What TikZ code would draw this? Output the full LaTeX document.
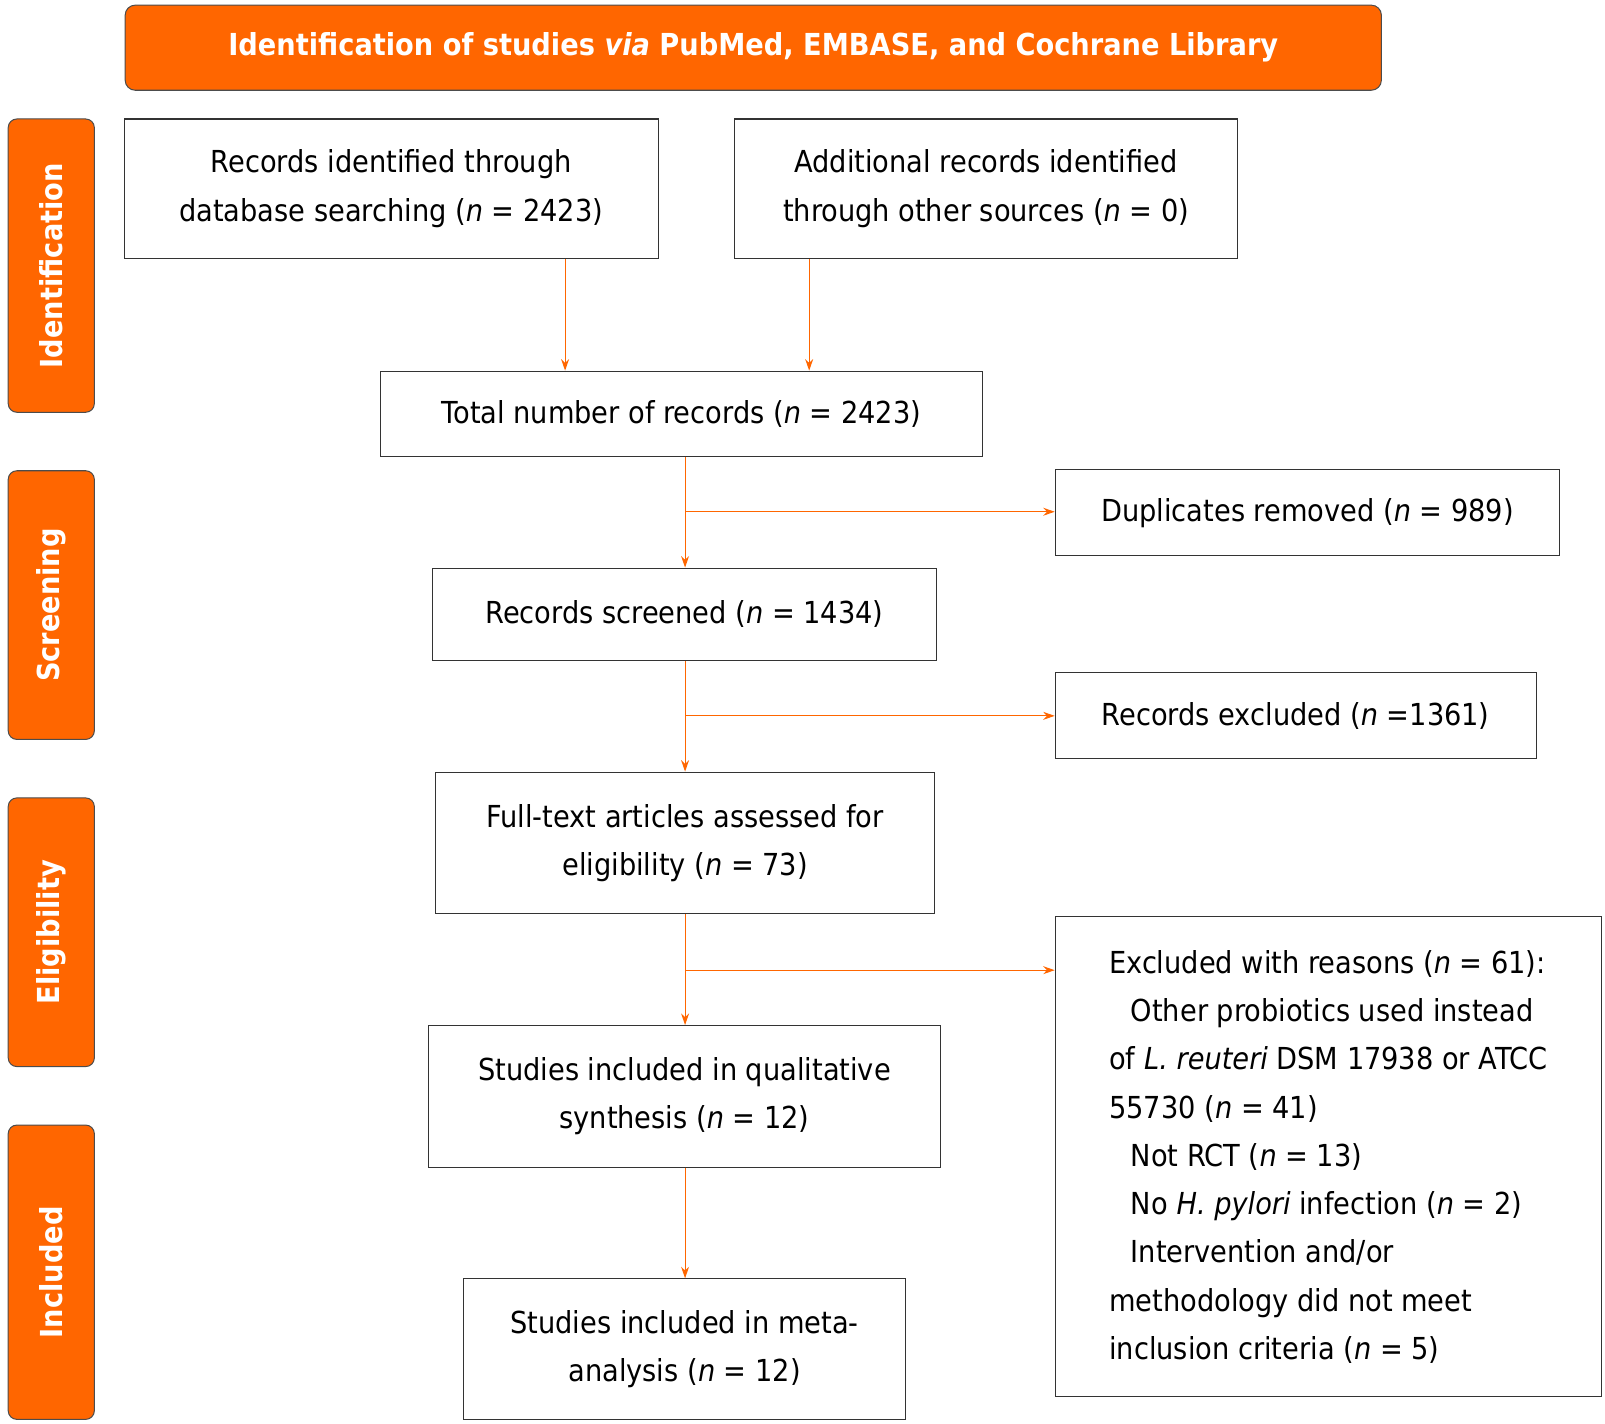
\documentclass[tikz,border=0pt]{standalone}
\usepackage{fontspec}
\setmainfont{DejaVu Sans Condensed}
\usetikzlibrary{arrows.meta}
\definecolor{org}{HTML}{FF6600}
\begin{document}
\begin{tikzpicture}[x=0.05cm,y=-0.05cm,
  font=\fontsize{42}{67}\selectfont,
  box/.style={draw=black!80,line width=1.6pt,inner sep=0pt,align=center},
  side/.style={draw=black!70,fill=org,rounded corners=12pt,line width=1.4pt,text=white,font=\fontsize{42}{50}\selectfont\bfseries,rotate=90,minimum width=#1,minimum height=84*1.4226pt,inner sep=0pt},
  arr/.style={draw=org,line width=1.6pt,-{Stealth[length=16pt,width=11pt]}}]
\useasboundingbox (0,0) rectangle (1565,1388);
\newcommand{\nn}{\textit{n}}
\node[draw=black!70,fill=org,rounded corners=14pt,line width=1.4pt,text=white,font=\fontsize{42}{50}\selectfont\bfseries,minimum width=1225*1.4226pt,minimum height=83*1.4226pt,inner sep=0pt] (H) at (734.5,46.5) {Identification of studies \textit{via} PubMed, EMBASE, and Cochrane Library};
\node[side=286*1.4226pt] (S1) at (50,259) {Identification};
\node[side=262*1.4226pt] (S2) at (50,590) {Screening};
\node[side=262*1.4226pt] (S3) at (50,909) {Eligibility};
\node[side=287*1.4226pt] (S4) at (50,1240.5) {Included};
\node[box,minimum width=521*1.4226pt,minimum height=136*1.4226pt] (A) at (381.5,184) {Records identified through\\database searching (\nn{} = 2423)};
\node[box,minimum width=491*1.4226pt,minimum height=136*1.4226pt] (B) at (961.5,184) {Additional records identified\\through other sources (\nn{} = 0)};
\node[box,minimum width=587*1.4226pt,minimum height=83*1.4226pt] (T) at (664.5,403.5) {Total number of records (\nn{} = 2423)};
\node[box,minimum width=492*1.4226pt,minimum height=84*1.4226pt] (D) at (1275,500) {Duplicates removed (\nn{} = 989)};
\node[box,minimum width=491*1.4226pt,minimum height=90*1.4226pt] (R) at (667.5,599) {Records screened (\nn{} = 1434)};
\node[box,minimum width=469*1.4226pt,minimum height=84*1.4226pt] (E) at (1263.5,698) {Records excluded (\nn{} =1361)};
\node[box,minimum width=486*1.4226pt,minimum height=138*1.4226pt] (F) at (668,822) {Full-text articles assessed for\\eligibility (\nn{} = 73)};
\node[box,minimum width=533*1.4226pt,minimum height=468*1.4226pt,align=left] (X) at (1295.5,1128) {Excluded with reasons (\nn{} = 61):\\
\hspace*{30pt}Other probiotics used instead\\of \textit{L. reuteri} DSM 17938 or ATCC\\55730 (\nn{} = 41)\\
\hspace*{30pt}Not RCT (\nn{} = 13)\\
\hspace*{30pt}No \textit{H. pylori} infection (\nn{} = 2)\\
\hspace*{30pt}Intervention and/or\\methodology did not meet\\inclusion criteria (\nn{} = 5)};
\node[box,minimum width=499*1.4226pt,minimum height=138*1.4226pt] (Q) at (667.5,1069) {Studies included in qualitative\\synthesis (\nn{} = 12)};
\node[box,minimum width=431*1.4226pt,minimum height=137*1.4226pt] (M) at (667.5,1315.5) {Studies included in meta-\\analysis (\nn{} = 12)};
\draw[arr] (A.south -| 551,0) -- (T.north -| 551,0);
\draw[arr] (B.south -| 789,0) -- (T.north -| 789,0);
\draw[arr] (T.south -| 668,0) -- (R.north -| 668,0);
\draw[arr] (668,499) -- (D.west |- 0,499);
\draw[arr] (R.south -| 668,0) -- (F.north -| 668,0);
\draw[arr] (668,698) -- (E.west |- 0,698);
\draw[arr] (F.south -| 668,0) -- (Q.north -| 668,0);
\draw[arr] (668,946) -- (X.west |- 0,946);
\draw[arr] (Q.south -| 668,0) -- (M.north -| 668,0);
\end{tikzpicture}
\end{document}
